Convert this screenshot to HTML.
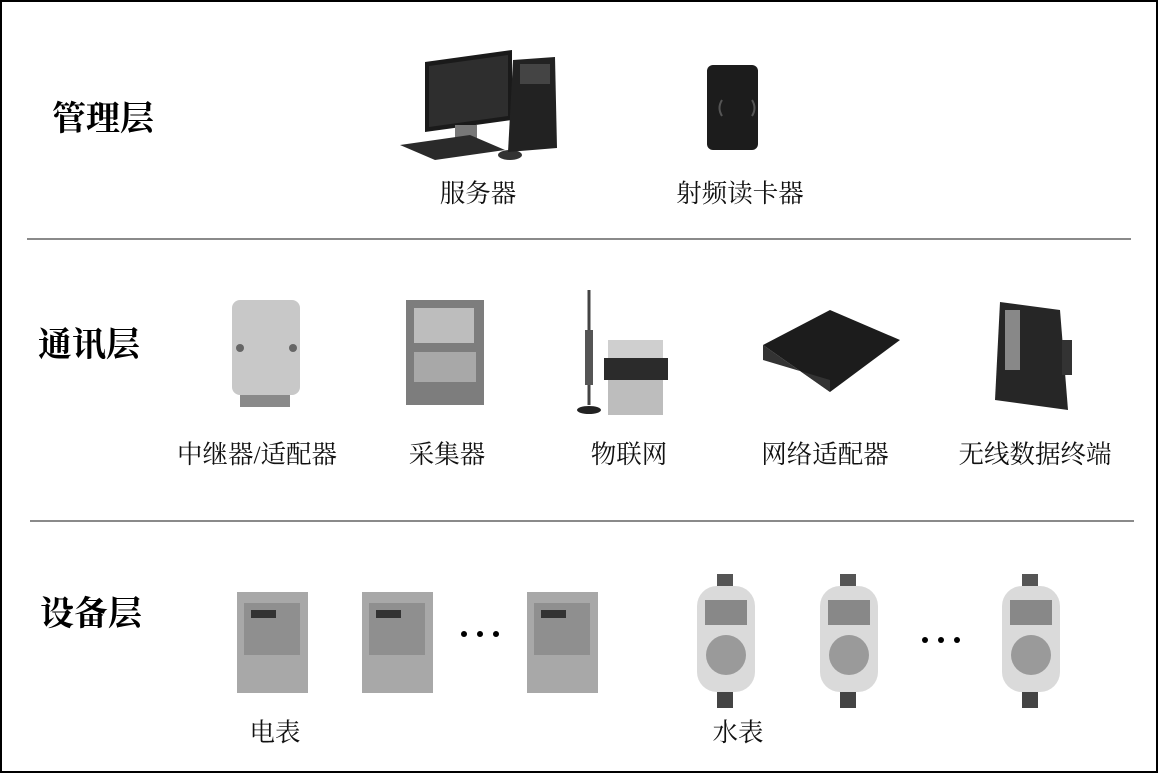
<!DOCTYPE html>
<html><head><meta charset="utf-8"><style>
body{margin:0;background:#fff;}
#c{position:relative;width:1158px;height:773px;overflow:hidden;background:#fff;}
.frame{position:absolute;left:0;top:0;width:1154px;height:769px;border:2px solid #000;}
.t{position:absolute;font-family:"Liberation Serif","Noto Serif CJK SC",serif;color:#111;white-space:nowrap;transform:translateX(-50%);font-size:25.5px;line-height:1;}
.h{position:absolute;font-family:"Liberation Serif","Noto Serif CJK SC",serif;font-weight:bold;font-size:34px;color:#000;line-height:1;}
.ln{position:absolute;height:2px;background:#8a8a8a;}
svg{position:absolute;left:0;top:0;}
</style></head><body><div id="c">
<div class="frame"></div>
<div class="ln" style="left:27px;top:238px;width:1104px"></div>
<div class="ln" style="left:30px;top:520px;width:1104px"></div>
<div class="h" style="left:52px;top:103px">管理层</div>
<div class="h" style="left:38px;top:329px">通讯层</div>
<div class="h" style="left:40px;top:598px">设备层</div>

<div class="t" style="left:478px;top:181px">服务器</div>
<div class="t" style="left:740px;top:181px">射频读卡器</div>
<div class="t" style="left:257px;top:442px">中继器/适配器</div>
<div class="t" style="left:447px;top:442px">采集器</div>
<div class="t" style="left:629px;top:442px">物联网</div>
<div class="t" style="left:825px;top:442px">网络适配器</div>
<div class="t" style="left:1035px;top:442px">无线数据终端</div>
<div class="t" style="left:275px;top:720px">电表</div>
<div class="t" style="left:738px;top:720px">水表</div>

<svg width="1158" height="773">
<polygon points="425,62 512,50 512,120 425,132" fill="#1a1a1a"/>
<polygon points="429,66 508,55 508,116 429,127" fill="#2e2e2e"/>
<rect x="455" y="125" width="22" height="15" fill="#777"/>
<polygon points="400,145 470,135 505,150 435,160" fill="#2a2a2a"/>
<ellipse cx="510" cy="155" rx="12" ry="5" fill="#333"/>
<polygon points="513,60 555,57 557,148 508,152" fill="#222"/>
<rect x="520" y="64" width="30" height="20" fill="#444"/>
<rect x="707" y="65" width="51" height="85" rx="6" fill="#1c1c1c"/>
<path d="M722,100 q-5,8 0,16 M752,100 q5,8 0,16" stroke="#555" stroke-width="2" fill="none"/>
<rect x="232" y="300" width="68" height="95" rx="8" fill="#c8c8c8"/>
<rect x="240" y="395" width="50" height="12" fill="#8a8a8a"/>
<circle cx="240" cy="348" r="4" fill="#666"/><circle cx="293" cy="348" r="4" fill="#666"/>
<rect x="406" y="300" width="78" height="105" fill="#7d7d7d"/>
<rect x="414" y="308" width="60" height="35" fill="#bdbdbd"/>
<rect x="414" y="352" width="62" height="30" fill="#a8a8a8"/>
<line x1="589" y1="290" x2="589" y2="405" stroke="#444" stroke-width="3"/>
<rect x="585" y="330" width="8" height="55" fill="#555"/>
<ellipse cx="589" cy="410" rx="12" ry="4" fill="#222"/>
<rect x="604" y="358" width="64" height="22" fill="#2b2b2b"/>
<rect x="608" y="340" width="55" height="18" fill="#cfcfcf"/>
<rect x="608" y="380" width="55" height="35" fill="#bdbdbd"/>
<polygon points="763,345 830,310 900,340 830,392" fill="#1c1c1c"/>
<polygon points="763,345 830,392 830,380 763,360" fill="#333"/>
<polygon points="1000,302 1060,310 1068,410 995,400" fill="#262626"/>
<rect x="1005" y="310" width="15" height="60" fill="#888"/>
<rect x="1062" y="340" width="10" height="35" fill="#333"/>
<g fill="#a8a8a8">
<rect x="237" y="592" width="71" height="101"/><rect x="362" y="592" width="71" height="101"/><rect x="527" y="592" width="71" height="101"/></g>
<g fill="#8f8f8f">
<rect x="244" y="603" width="56" height="52"/><rect x="369" y="603" width="56" height="52"/><rect x="534" y="603" width="56" height="52"/></g>
<g fill="#333"><rect x="251" y="610" width="25" height="8"/><rect x="376" y="610" width="25" height="8"/><rect x="541" y="610" width="25" height="8"/></g>
<g fill="#000"><circle cx="464" cy="634" r="3"/><circle cx="480" cy="634" r="3"/><circle cx="496" cy="634" r="3"/>
<circle cx="925" cy="640" r="3"/><circle cx="941" cy="640" r="3"/><circle cx="957" cy="640" r="3"/></g>
<g>
<rect x="717" y="574" width="16" height="14" fill="#555"/><rect x="717" y="688" width="16" height="20" fill="#444"/>
<rect x="697" y="586" width="58" height="106" rx="20" fill="#dadada"/>
<rect x="705" y="600" width="42" height="25" fill="#888"/><circle cx="726" cy="655" r="20" fill="#9a9a9a"/>
<rect x="840" y="574" width="16" height="14" fill="#555"/><rect x="840" y="688" width="16" height="20" fill="#444"/>
<rect x="820" y="586" width="58" height="106" rx="20" fill="#dadada"/>
<rect x="828" y="600" width="42" height="25" fill="#888"/><circle cx="849" cy="655" r="20" fill="#9a9a9a"/>
<rect x="1022" y="574" width="16" height="14" fill="#555"/><rect x="1022" y="688" width="16" height="20" fill="#444"/>
<rect x="1002" y="586" width="58" height="106" rx="20" fill="#dadada"/>
<rect x="1010" y="600" width="42" height="25" fill="#888"/><circle cx="1031" cy="655" r="20" fill="#9a9a9a"/>
</g>
</svg>
</div></body></html>
